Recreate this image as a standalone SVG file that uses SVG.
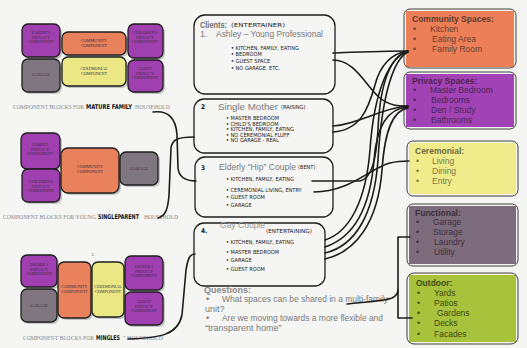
<svg xmlns="http://www.w3.org/2000/svg" width="527" height="348" viewBox="0 0 527 348">
<style>
.bg{fill:#f5f5f3}
.blk{stroke:#1e1e1e;stroke-width:1.3}
.sh{fill:#c4c4c4}
.pur{fill:#9f3fb0}
.org{fill:#e9825c}
.yel{fill:#ebe785}
.gry{fill:#7f7680}
.bl{font-family:"Liberation Serif",serif;font-size:4.2px;fill:#3e2f3e;text-anchor:middle}
.cap{font-family:"Liberation Serif",serif;font-size:6px;fill:#8a8a8a}
.hw{font-family:"Liberation Sans Narrow","DejaVu Sans Condensed","Liberation Sans",sans-serif;font-size:5.6px;fill:#1a1a1a}
.hwb{font-family:"Liberation Sans Narrow","DejaVu Sans Condensed","Liberation Sans",sans-serif;font-size:6.5px;font-weight:bold;fill:#111}
.box{fill:none;stroke:#1e1e1e;stroke-width:1.3}
.gt{font-family:"Liberation Sans",Arial,sans-serif;font-size:9px;fill:#7a7a7a}
.gtb{font-family:"Liberation Sans",Arial,sans-serif;font-size:9px;font-weight:bold;fill:#6e6e6e}
.rt{font-family:"Liberation Sans",Arial,sans-serif;font-size:8.5px}
.rtb{font-family:"Liberation Sans",Arial,sans-serif;font-size:8.5px;font-weight:bold}
.rb{stroke:#2a2a2a;stroke-width:0.9}
.con path{fill:none;stroke:#1c1c1c;stroke-width:1.6;stroke-linecap:round}
</style>
<rect class="bg" x="0" y="0" width="527" height="348"/>

<!-- Left: mature family -->
<g id="mature-family">
<rect class="sh" x="24" y="26" width="38" height="33" rx="6"/>
<rect class="sh" x="64" y="34" width="64" height="23" rx="6"/>
<rect class="sh" x="130" y="26" width="35" height="34" rx="6"/>
<rect class="sh" x="24" y="61" width="38" height="33" rx="6"/>
<rect class="sh" x="64" y="59" width="64" height="29" rx="6"/>
<rect class="sh" x="130" y="62" width="35" height="32" rx="6"/>
<rect class="blk pur" x="22" y="24" width="38" height="33" rx="6"/>
<rect class="blk org" x="62" y="32" width="64" height="23" rx="6"/>
<rect class="blk pur" x="128" y="24" width="35" height="34" rx="6"/>
<rect class="blk gry" x="22" y="59" width="38" height="33" rx="6"/>
<rect class="blk yel" x="62" y="57" width="64" height="29" rx="6"/>
<rect class="blk pur" x="128" y="60" width="35" height="32" rx="6"/>
<text class="bl" x="41" y="34">PARENT'S</text><text class="bl" x="41" y="38.5">PRIVACY</text><text class="bl" x="41" y="43">COMPONENT</text>
<text class="bl" x="94" y="42">COMMUNITY</text><text class="bl" x="94" y="47">COMPONENT</text>
<text class="bl" x="145" y="34">CHILDREN'S</text><text class="bl" x="145" y="38.5">PRIVACY</text><text class="bl" x="145" y="43">COMPONENT</text>
<text class="bl" x="41" y="76">GARAGE</text>
<text class="bl" x="94" y="70">CEREMONIAL</text><text class="bl" x="94" y="75">COMPONENT</text>
<text class="bl" x="145" y="70">GUEST</text><text class="bl" x="145" y="74.5">PRIVACY</text><text class="bl" x="145" y="79">COMPONENT</text>
<text class="cap" x="13" y="109" textLength="71" lengthAdjust="spacingAndGlyphs">COMPONENT BLOCKS FOR</text>
<text class="hwb" x="86" y="109" textLength="46" lengthAdjust="spacingAndGlyphs">MATURE FAMILY</text>
<text class="cap" x="135" y="109" textLength="35" lengthAdjust="spacingAndGlyphs">HOUSEHOLD</text>
</g>

<!-- Left: single parent -->
<g id="single-parent">
<rect class="sh" x="23" y="135" width="39" height="36" rx="6"/>
<rect class="sh" x="24" y="171" width="38" height="33" rx="6"/>
<rect class="sh" x="63" y="150" width="58" height="45" rx="7"/>
<rect class="sh" x="122" y="154" width="38" height="33" rx="6"/>
<rect class="blk pur" x="21" y="133" width="39" height="36" rx="6"/>
<rect class="blk pur" x="22" y="169" width="38" height="33" rx="6"/>
<rect class="blk org" x="61" y="148" width="58" height="45" rx="7"/>
<rect class="blk gry" x="120" y="152" width="38" height="33" rx="6"/>
<text class="bl" x="40" y="146">PARENT</text><text class="bl" x="40" y="150.5">PRIVACY</text><text class="bl" x="40" y="155">COMPONENT</text>
<text class="bl" x="41" y="183">CHILDREN'S</text><text class="bl" x="41" y="187.5">PRIVACY</text><text class="bl" x="41" y="192">COMPONENT</text>
<text class="bl" x="90" y="168">COMMUNITY</text><text class="bl" x="90" y="173">COMPONENT</text>
<text class="bl" x="139" y="170">GARAGE</text>
<text class="cap" x="3" y="219" textLength="93" lengthAdjust="spacingAndGlyphs">COMPONENT BLOCKS FOR YOUNG</text>
<text class="hwb" x="98" y="219" textLength="41" lengthAdjust="spacingAndGlyphs">SINGLEPARENT</text>
<text class="cap" x="144" y="219" textLength="34" lengthAdjust="spacingAndGlyphs">HOUSEHOLD</text>
</g>

<!-- Left: mingles -->
<g id="mingles">
<rect class="sh" x="23" y="257" width="36" height="32" rx="6"/>
<rect class="sh" x="23" y="291" width="36" height="33" rx="6"/>
<rect class="sh" x="60" y="264" width="33" height="56" rx="6"/>
<rect class="sh" x="94" y="264" width="32" height="55" rx="6"/>
<rect class="sh" x="127" y="258" width="38" height="34" rx="6"/>
<rect class="sh" x="127" y="294" width="38" height="33" rx="6"/>
<rect class="blk pur" x="21" y="255" width="36" height="32" rx="6"/>
<rect class="blk gry" x="21" y="289" width="36" height="33" rx="6"/>
<rect class="blk org" x="58" y="262" width="33" height="56" rx="6"/>
<rect class="blk yel" x="92" y="262" width="32" height="55" rx="6"/>
<rect class="blk pur" x="125" y="256" width="38" height="34" rx="6"/>
<rect class="blk pur" x="125" y="292" width="38" height="33" rx="6"/>
<text class="bl" x="93" y="256" style="fill:#444">2.</text>
<text class="bl" x="39" y="266">OWNER 1</text><text class="bl" x="39" y="270.5">PRIVACY</text><text class="bl" x="39" y="275">COMPONENT</text>
<text class="bl" x="39" y="307">GARAGE</text>
<text class="bl" x="74.5" y="288">COMMUNITY</text><text class="bl" x="74.5" y="293">COMPONENT</text>
<text class="bl" x="108" y="288">CEREMONIAL</text><text class="bl" x="108" y="293">COMPONENT</text>
<text class="bl" x="144" y="268">OWNER 2</text><text class="bl" x="144" y="272.5">PRIVACY</text><text class="bl" x="144" y="277">COMPONENT</text>
<text class="bl" x="144" y="303">GUEST</text><text class="bl" x="144" y="307.5">PRIVACY</text><text class="bl" x="144" y="312">COMPONENT</text>
<text class="cap" x="23" y="340" textLength="71" lengthAdjust="spacingAndGlyphs">COMPONENT BLOCKS FOR</text>
<text class="hwb" x="96" y="340" textLength="24" lengthAdjust="spacingAndGlyphs">MINGLES</text>
<text class="cap" x="123" y="340" textLength="40" lengthAdjust="spacingAndGlyphs">" HOUSEHOLD</text>
</g>

<!-- Middle: clients -->
<g id="client-1">
<rect class="box" x="194" y="15" width="141" height="79" rx="11"/>
<text class="gtb" x="200" y="28" textLength="27" lengthAdjust="spacingAndGlyphs">Clients:</text>
<text class="hw" x="231" y="27" textLength="54" lengthAdjust="spacingAndGlyphs">(ENTERTAINER)</text>
<text class="gt" x="200" y="37">1.</text>
<text class="gt" x="216" y="37" textLength="107" lengthAdjust="spacingAndGlyphs">Ashley – Young Professional</text>
<text class="hw" x="231" y="50">• KITCHEN, FAMILY, EATING</text>
<text class="hw" x="231" y="56">• BEDROOM</text>
<text class="hw" x="231" y="63">• GUEST SPACE</text>
<text class="hw" x="231" y="70">• NO GARAGE. ETC.</text>
</g>
<g id="client-2">
<rect class="box" x="194" y="99" width="139" height="54" rx="10"/>
<text class="hwb" x="201" y="109">2</text>
<text class="gt" x="218" y="110" textLength="60" lengthAdjust="spacingAndGlyphs">Single Mother</text>
<text class="hw" x="281" y="109">(RAISING)</text>
<text class="hw" x="226" y="120">• MASTER BEDROOM</text>
<text class="hw" x="226" y="126">• CHILD'S BEDROOM</text>
<text class="hw" x="226" y="131">• KITCHEN, FAMILY, EATING</text>
<text class="hw" x="226" y="136.5">• NO CEREMONIAL FLUFF</text>
<text class="hw" x="226" y="142">• NO GARAGE - REAL</text>
</g>
<g id="client-3">
<rect class="box" x="195" y="157" width="138" height="60" rx="10"/>
<text class="hwb" x="201" y="170">3</text>
<text class="gt" x="219" y="170" textLength="77" lengthAdjust="spacingAndGlyphs">Elderly “Hip” Couple</text>
<text class="hw" x="298" y="169">(BENT)</text>
<text class="hw" x="226" y="181">• KITCHEN, FAMILY, EATING</text>
<text class="hw" x="226" y="192">• CEREMONIAL LIVING, ENTRY</text>
<text class="hw" x="226" y="199">• GUEST ROOM</text>
<text class="hw" x="226" y="207">• GARAGE</text>
</g>
<g id="client-4">
<rect class="box" x="194" y="223" width="131" height="63" rx="10"/>
<text class="hwb" x="201" y="233">4.</text>
<text class="gt" x="220" y="228" textLength="45" lengthAdjust="spacingAndGlyphs" style="fill:#9a9a9a">Gay Couple</text>
<text class="hw" x="266" y="233" textLength="46" lengthAdjust="spacingAndGlyphs">(ENTERTAINING)</text>
<text class="hw" x="226" y="244">• KITCHEN, FAMILY, EATING</text>
<text class="hw" x="226" y="254">• MASTER BEDROOM</text>
<text class="hw" x="226" y="262">• GARAGE</text>
<text class="hw" x="226" y="271">• GUEST ROOM</text>
</g>
<g id="questions">
<text class="gtb" x="204" y="293" style="fill:#8a8a8a">Questions:</text>
<text class="gt" x="206" y="302">•</text>
<text class="gt" x="222" y="302" textLength="166" lengthAdjust="spacingAndGlyphs">What spaces can be shared in a multi-family</text>
<text class="gt" x="205" y="312">unit?</text>
<text class="gt" x="206" y="321">•</text>
<text class="gt" x="222" y="321" textLength="161" lengthAdjust="spacingAndGlyphs">Are we moving towards a more flexible and</text>
<text class="gt" x="205" y="331">“transparent home”</text>
</g>

<!-- Right: spaces -->
<g id="community-spaces">
<rect x="406" y="11" width="108" height="56" fill="#ec7f57"/>
<rect class="rb" x="404" y="9" width="112" height="59" rx="6" fill="none"/>
<text class="rtb" x="412" y="22" fill="#5e3a30">Community Spaces:</text>
<text class="rt" x="413" y="32" fill="#6a4032">•</text><text class="rt" x="430" y="32" fill="#6a4032">Kitchen</text>
<text class="rt" x="413" y="42" fill="#6a4032">•</text><text class="rt" x="432" y="42" fill="#6a4032">Eating Area</text>
<text class="rt" x="413" y="52" fill="#6a4032">•</text><text class="rt" x="432" y="52" fill="#6a4032">Family Room</text>
</g>
<g id="privacy-spaces">
<rect x="406" y="74" width="108" height="53" fill="#a143b4"/>
<rect class="rb" x="404" y="72" width="112" height="57" rx="6" fill="none"/>
<text class="rtb" x="412" y="84" fill="#4b2455">Privacy Spaces:</text>
<text class="rt" x="413" y="93" fill="#4b2455">•</text><text class="rt" x="430" y="93" fill="#4b2455">Master Bedroom</text>
<text class="rt" x="413" y="103" fill="#4b2455">•</text><text class="rt" x="431" y="103" fill="#4b2455">Bedrooms</text>
<text class="rt" x="413" y="113" fill="#4b2455">•</text><text class="rt" x="431" y="113" fill="#4b2455">Den / Study</text>
<text class="rt" x="413" y="123" fill="#4b2455">•</text><text class="rt" x="431" y="123" fill="#4b2455">Bathrooms</text>
</g>
<g id="ceremonial">
<rect x="409" y="143" width="107" height="51" fill="#f0ec8c"/>
<rect class="rb" x="407" y="141" width="111" height="55" rx="6" fill="none"/>
<text class="rtb" x="415" y="154" fill="#6b6a3e">Ceremonial:</text>
<text class="rt" x="416" y="164" fill="#7a7845">•</text><text class="rt" x="432" y="164" fill="#7a7845">Living</text>
<text class="rt" x="416" y="174" fill="#7a7845">•</text><text class="rt" x="432" y="174" fill="#7a7845">Dining</text>
<text class="rt" x="416" y="184" fill="#7a7845">•</text><text class="rt" x="432" y="184" fill="#7a7845">Entry</text>
</g>
<g id="functional">
<rect x="409" y="206" width="107" height="58" fill="#7c6c7c"/>
<rect class="rb" x="407" y="204" width="111" height="62" rx="6" fill="none"/>
<text class="rtb" x="415" y="216" fill="#3e303e">Functional:</text>
<text class="rt" x="416" y="225" fill="#3e303e">•</text><text class="rt" x="433" y="225" fill="#3e303e">Garage</text>
<text class="rt" x="416" y="235" fill="#3e303e">•</text><text class="rt" x="433" y="235" fill="#3e303e">Storage</text>
<text class="rt" x="416" y="245" fill="#3e303e">•</text><text class="rt" x="434" y="245" fill="#3e303e">Laundry</text>
<text class="rt" x="416" y="255" fill="#3e303e">•</text><text class="rt" x="434" y="255" fill="#3e303e">Utility</text>
</g>
<g id="outdoor">
<rect x="409" y="275" width="107" height="67" fill="#a8c23b"/>
<rect class="rb" x="407" y="273" width="111" height="71" rx="7" fill="none"/>
<text class="rtb" x="416" y="286" fill="#3c4a16">Outdoor:</text>
<text class="rt" x="417" y="296" fill="#3c4a16">•</text><text class="rt" x="434" y="296" fill="#3c4a16">Yards</text>
<text class="rt" x="417" y="306" fill="#3c4a16">•</text><text class="rt" x="434" y="306" fill="#3c4a16">Patios</text>
<text class="rt" x="417" y="316" fill="#3c4a16">•</text><text class="rt" x="437" y="316" fill="#3c4a16">Gardens</text>
<text class="rt" x="417" y="326" fill="#3c4a16">•</text><text class="rt" x="434" y="326" fill="#3c4a16">Decks</text>
<text class="rt" x="417" y="337" fill="#3c4a16">•</text><text class="rt" x="434" y="337" fill="#3c4a16">Facades</text>
</g>

<g id="connectors" class="con">
<path d="M153,112 C168,110 176,118 177,135 L178,168 C179,178 186,181 196,181"/>
<path d="M158,218 C166,216 168,208 169,195 L171,148 C172,140 177,137 194,137"/>
<path d="M128,339 C160,338 178,335 182,315 L186,270 C188,258 190,254 195,254"/>
<path d="M333,53 C360,52 385,51 408,51"/>
<path d="M333,60 C355,60 365,85 380,98 C390,106 398,106 408,106"/>
<path d="M333,126 C360,124 380,108 408,106"/>
<path d="M333,132 C360,130 368,110 375,85 C380,65 392,53 408,51"/>
<path d="M312,181 L360,181 C372,178 376,160 378,130 C380,80 392,55 408,51"/>
<path d="M314,192 C350,192 370,168 390,163 C398,161 403,161 409,161"/>
<path d="M325,240 C350,232 366,200 370,150 C374,90 390,56 408,52"/>
<path d="M325,247 C352,238 370,210 374,160 C377,120 392,108 408,107"/>
<path d="M325,253 C355,246 374,215 378,160 C382,90 395,58 408,52"/>
<path d="M325,259 C356,252 378,222 382,170 C385,125 395,110 408,108"/>
<path d="M398,237 L398,318 M398,237 L410,237 M398,318 L412,318"/>
<path d="M347,304 C365,302 385,301 392,298 C396,296 398,293 398,290"/>
</g>
</svg>
